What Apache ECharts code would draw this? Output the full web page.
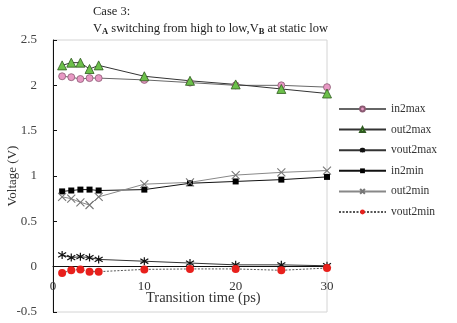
<!DOCTYPE html>
<html>
<head>
<meta charset="utf-8">
<script src="https://cdn.jsdelivr.net/npm/echarts@6/dist/echarts.min.js"></script>
<style>
  html, body { margin: 0; padding: 0; background: #fff; }
  #chart { width: 457px; height: 323px; }
</style>
</head>
<body>
<div id="chart"></div>
<script>
// Transition times (ps)
const times = [1, 2, 3, 4, 5, 10, 15, 20, 25, 30];

// Voltages (V) for each measured node
const in2max   = [2.10, 2.09, 2.07, 2.08, 2.08, 2.06, 2.03, 2.00, 2.00, 1.98];
const out2max  = [2.22, 2.25, 2.25, 2.18, 2.22, 2.10, 2.05, 2.01, 1.96, 1.91];
const vout2max = [0.13, 0.10, 0.11, 0.10, 0.08, 0.06, 0.04, 0.02, 0.02, 0.01];
const in2min   = [0.83, 0.84, 0.85, 0.85, 0.84, 0.85, 0.92, 0.94, 0.96, 0.99];
const out2min  = [0.77, 0.75, 0.71, 0.68, 0.77, 0.91, 0.93, 1.01, 1.04, 1.06];
const vout2min = [-0.07, -0.04, -0.03, -0.055, -0.055, -0.03, -0.025, -0.025, -0.04, -0.015];

const yTicks = [-0.5, 0, 0.5, 1, 1.5, 2, 2.5];
const xTicks = [0, 10, 20, 30];

const serif = '"Liberation Serif", "DejaVu Serif", serif';
const pair = arr => times.map((t, i) => [t, arr[i]]);

const asterisk = 'path://M0,-5L0,5M-4.5,-3L4.5,3M-4.5,3L4.5,-3';
const cross = 'path://M-4,-4L4,4M-4,4L4,-4';

const gridTop = 40, gridHeight = 272;
const yMin = yTicks[0], yMax = yTicks[yTicks.length - 1];
// shift the time axis up so that its line sits on V = 0
const zeroOffset = -gridHeight * (0 - yMin) / (yMax - yMin);

function line(name, data, opts) {
  return Object.assign({
    name: name,
    type: 'line',
    data: pair(data),
    symbolSize: 7,
    lineStyle: { width: 1, color: '#444' },
    emphasis: { disabled: true },
    animation: false
  }, opts);
}

const chart = echarts.init(document.getElementById('chart'), null, { renderer: 'canvas' });
chart.setOption({
  animation: false,
  textStyle: { fontFamily: serif },
  title: {
    left: 88,
    top: -2,
    text: 'Case 3:\nV{s|A} switching from high to low,V{s|B} at static low',
    textStyle: {
      fontFamily: serif,
      fontSize: 12.5,
      fontWeight: 'normal',
      color: '#222',
      lineHeight: 17,
      rich: {
        s: { fontFamily: serif, fontSize: 8.5, fontWeight: 'bold', color: '#222', padding: [6, 0, 0, 0] }
      }
    }
  },
  grid: {
    left: 53, top: gridTop, width: 274, height: gridHeight,
    outerBoundsMode: 'none',
    containLabel: false,
    show: true, borderColor: '#d4d4d4', borderWidth: 1
  },
  xAxis: {
    type: 'value',
    min: xTicks[0], max: xTicks[xTicks.length - 1], interval: 10,
    offset: zeroOffset,
    axisLine: { onZero: false, lineStyle: { color: '#111', width: 1 } },
    axisTick: { show: false },
    splitLine: { show: false },
    axisLabel: { fontFamily: serif, fontSize: 13, color: '#333', margin: 13 }
  },
  yAxis: {
    type: 'value',
    min: yMin, max: yMax, interval: 0.5,
    axisLine: { show: true, onZero: false, lineStyle: { color: '#111', width: 1 } },
    axisTick: { show: true, inside: true, length: 4, lineStyle: { color: '#111' } },
    splitLine: { show: false },
    axisLabel: {
      fontFamily: serif, fontSize: 13, color: '#444', margin: 16,
      formatter: v => String(v)
    },
    name: 'Voltage (V)',
    nameLocation: 'middle',
    nameRotate: 90,
    nameGap: 34,
    nameMoveOverlap: false,
    nameTextStyle: { fontFamily: serif, fontSize: 13, color: '#333' }
  },
  graphic: [{
    type: 'text',
    left: 146, top: 291,
    style: { text: 'Transition time (ps)', font: '14.5px ' + serif, fill: '#333' }
  }],
  legend: {
    orient: 'vertical',
    left: 338, top: 103,
    padding: 0,
    itemWidth: 47, itemHeight: 6, itemGap: 8.6,
    textStyle: { fontFamily: serif, fontSize: 11.5, color: '#333' },
    data: ['in2max', 'out2max', 'vout2max', 'in2min', 'out2min', 'vout2min']
  },
  series: [
    line('in2max', in2max, {
      symbol: 'circle', symbolSize: 7,
      lineStyle: { width: 1, color: '#666' },
      itemStyle: { color: '#e898c4', borderColor: '#8a5a72', borderWidth: 0.8 }
    }),
    line('out2max', out2max, {
      symbol: 'triangle', symbolSize: 9,
      lineStyle: { width: 1, color: '#333' },
      itemStyle: { color: '#6cc04a', borderColor: '#2f5a20', borderWidth: 0.8 }
    }),
    line('vout2max', vout2max, {
      symbol: asterisk, symbolSize: 8,
      lineStyle: { width: 1, color: '#333' },
      itemStyle: { color: 'none', borderColor: '#111', borderWidth: 1.2 }
    }),
    line('in2min', in2min, {
      symbol: 'rect', symbolSize: 6,
      lineStyle: { width: 1, color: '#111' },
      itemStyle: { color: '#000' }
    }),
    line('out2min', out2min, {
      symbol: cross, symbolSize: 8,
      lineStyle: { width: 1, color: '#888' },
      itemStyle: { color: 'none', borderColor: '#777', borderWidth: 1.1 }
    }),
    line('vout2min', vout2min, {
      symbol: 'circle', symbolSize: 8,
      lineStyle: { width: 1, color: '#555', type: [2, 1.5] },
      itemStyle: { color: '#e8201c' }
    })
  ]
});
</script>
</body>
</html>
